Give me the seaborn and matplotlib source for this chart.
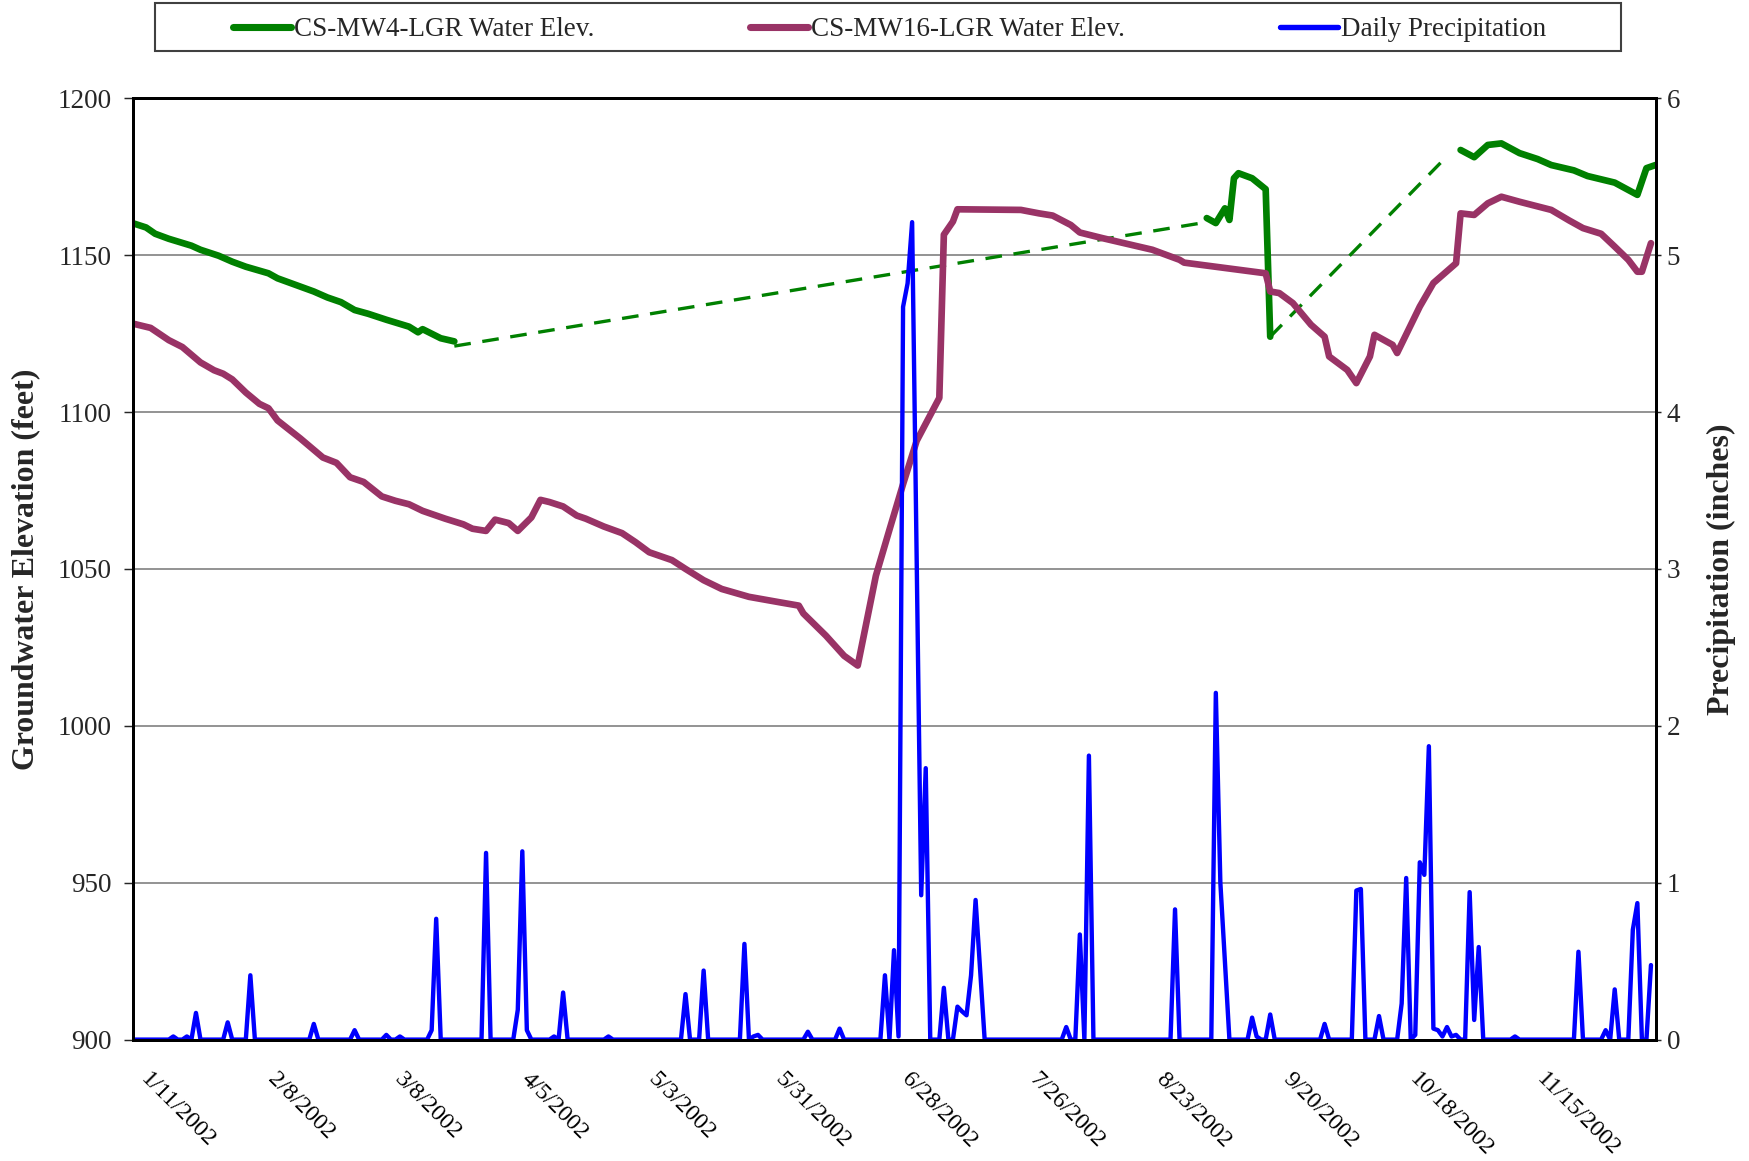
import pandas as pd
import numpy as np
import matplotlib
matplotlib.use("Agg")
import matplotlib.pyplot as plt
import matplotlib.transforms as mtransforms
from matplotlib.lines import Line2D
from matplotlib.patches import Rectangle
import seaborn as sns

start = pd.Timestamp("2002-01-11")
end = pd.Timestamp("2002-12-13")

# all positions are days after 1/11/2002
# CS-MW4-LGR, three measured stretches
mw4_days_1 = [0, 3, 5, 8, 13, 15, 19, 22, 25, 30, 32, 36, 40, 43, 46, 49, 52, 56, 61, 63, 64, 68, 71]
mw4_elev_1 = [1160.2, 1158.8, 1156.8, 1155.2, 1153.0, 1151.7, 1149.8, 1147.9, 1146.3, 1144.2, 1142.6,
              1140.5, 1138.4, 1136.5, 1135.0, 1132.5, 1131.3, 1129.4, 1127.2, 1125.4, 1126.4, 1123.5, 1122.5]
mw4_days_2 = [237, 239, 241, 242, 243, 244, 247, 250, 251]
mw4_elev_2 = [1161.8, 1160.2, 1164.9, 1161.2, 1174.5, 1176.1, 1174.5, 1171.0, 1124.0]
mw4_days_3 = [293, 296, 299, 302, 306, 310, 313, 318, 321, 327, 332, 334, 336]
mw4_elev_3 = [1183.5, 1181.2, 1185.1, 1185.6, 1182.5, 1180.6, 1178.7, 1177.0, 1175.2, 1173.1, 1169.2,
              1177.7, 1178.7]

# dashed connectors across the MW4 gaps
gap_days_1 = [71, 237]
gap_elev_1 = [1121.0, 1160.5]
gap_days_2 = [251, 290]
gap_elev_2 = [1124.0, 1181.5]

# CS-MW16-LGR
mw16_days = [0, 4, 8, 11, 15, 18, 20, 22, 25, 28, 30, 32, 37, 42, 45, 48, 51, 55, 58, 61, 64, 69, 73, 75,
             78, 80, 83, 85, 88, 90, 92, 95, 98, 100, 104, 108, 111, 114, 119, 122, 126, 130, 136, 143,
             147, 148, 153, 157, 160, 164, 167, 170, 173, 178, 179, 181, 182, 196, 200, 203, 207, 209,
             214, 225, 231, 232, 250, 251, 253, 256, 260, 263, 264, 268, 270, 273, 274, 278, 279, 284,
             287, 292, 293, 296, 299, 302, 306, 313, 317, 320, 324, 327, 330, 332, 333, 335]
mw16_elev = [1128.2, 1126.8, 1122.9, 1120.7, 1115.8, 1113.3, 1112.2, 1110.4, 1106.2, 1102.6, 1101.2,
             1097.3, 1091.6, 1085.5, 1083.8, 1079.2, 1077.7, 1073.1, 1071.7, 1070.6, 1068.5, 1066.0,
             1064.2, 1062.8, 1062.1, 1065.7, 1064.6, 1062.1, 1066.4, 1072.0, 1071.3, 1069.9, 1067.0,
             1066.0, 1063.5, 1061.4, 1058.5, 1055.3, 1052.8, 1050.0, 1046.4, 1043.6, 1041.1, 1039.3,
             1038.3, 1035.8, 1028.7, 1022.3, 1019.2, 1047.8, 1062.5, 1077.0, 1090.8, 1104.5, 1156.5,
             1160.7, 1164.6, 1164.4, 1163.3, 1162.6, 1159.6, 1157.2, 1155.4, 1151.7, 1148.5, 1147.6,
             1144.2, 1138.4, 1137.9, 1134.7, 1127.8, 1124.0, 1117.7, 1113.4, 1109.2, 1117.7, 1124.6,
             1121.4, 1118.8, 1133.6, 1141.1, 1147.4, 1163.3, 1162.8, 1166.5, 1168.6, 1167.0, 1164.4,
             1161.0, 1158.6, 1156.8, 1152.7, 1148.5, 1144.7, 1144.7, 1153.8]

# daily precipitation, days with rain (all other days 0)
rain_days = [9, 12, 14, 21, 26, 40, 49, 56, 59, 66, 67, 78, 85, 86, 87, 93, 95, 105, 122, 126, 135, 137,
             138, 149, 156, 166, 168, 169, 170, 171, 172, 173, 174, 175, 179, 182, 183, 184, 185, 186,
             187, 206, 209, 211, 230, 239, 240, 241, 247, 248, 251, 263, 270, 271, 275, 280, 281, 283,
             284, 285, 286, 287, 288, 289, 290, 291, 292, 295, 296, 297, 305, 319, 325, 327, 331, 332, 335]
rain_inches = [0.02, 0.02, 0.17, 0.11, 0.41, 0.10, 0.06, 0.03, 0.02, 0.06, 0.77, 1.19, 0.19, 1.20, 0.06,
               0.02, 0.30, 0.02, 0.29, 0.44, 0.61, 0.02, 0.03, 0.05, 0.07, 0.41, 0.57, 0.02, 4.67, 4.82,
               5.21, 3.07, 0.92, 1.73, 0.33, 0.21, 0.18, 0.155, 0.41, 0.89, 0.45, 0.08, 0.67, 1.81, 0.83,
               2.21, 1.00, 0.50, 0.14, 0.02, 0.16, 0.10, 0.95, 0.96, 0.15, 0.23, 1.03, 0.03, 1.13, 1.05,
               1.87, 0.07, 0.06, 0.02, 0.08, 0.02, 0.03, 0.94, 0.125, 0.59, 0.02, 0.56, 0.06, 0.32, 0.70,
               0.87, 0.475]
rain_last_day = 335

GREEN = "#008000"
PLUM = "#993366"
BLUE = "#0000FF"


def to_dates(days):
    return start + pd.to_timedelta(days, unit="D")


sns.set_style("white")
plt.rcParams["font.family"] = ["Liberation Serif", "DejaVu Serif"]

W, H = 1749, 1161
fig = plt.figure(figsize=(W / 150, H / 150), dpi=150)
ax = fig.add_axes([132.5 / W, 1 - 1039.6 / H, (1655.5 - 132.5) / W, (1039.6 - 98.2) / H])
ax2 = ax.twinx()

line_kw = dict(solid_capstyle="round", solid_joinstyle="round", estimator=None, legend=False)

for d, v in [(mw4_days_1, mw4_elev_1), (mw4_days_2, mw4_elev_2), (mw4_days_3, mw4_elev_3)]:
    sns.lineplot(x=to_dates(d), y=v, ax=ax, color=GREEN, lw=3.2, **line_kw)
for d, v in [(gap_days_1, gap_elev_1), (gap_days_2, gap_elev_2)]:
    sns.lineplot(x=to_dates(d), y=v, ax=ax, color=GREEN, lw=1.6,
                 estimator=None, legend=False, linestyle=(0, (5, 3.5)))
sns.lineplot(x=to_dates(mw16_days), y=mw16_elev, ax=ax, color=PLUM, lw=3.2, **line_kw)

daily = pd.Series(0.0, index=pd.date_range(start, start + pd.Timedelta(days=rain_last_day)))
daily[to_dates(rain_days)] = rain_inches
sns.lineplot(x=daily.index, y=daily.values, ax=ax2, color=BLUE, lw=2.1, **line_kw)

# axes
ax.set_xlim(start, end)
ax.set_ylim(900, 1200)
ax.set_yticks(range(900, 1201, 50))
ax2.set_ylim(0, 6)
ax2.set_yticks(range(0, 7))

ticks = pd.date_range(start, end, freq="14D")
ax.set_xticks(ticks)
ax.set_xticklabels([f"{t.month}/{t.day}/{t.year}" if (i % 2 == 0 and i < len(ticks) - 1) else ""
                    for i, t in enumerate(ticks)],
                   rotation=-45, ha="left", va="center", rotation_mode="anchor")
ax.tick_params(axis="x", direction="inout", length=5, width=0.7, pad=15, labelsize=11.5, colors="black")
ax.tick_params(axis="y", direction="out", length=4.3, width=0.7, pad=5.5, labelsize=13, left=True)
ax2.tick_params(axis="y", direction="out", length=2.4, width=0.7, pad=3, labelsize=13, right=True)

shift = mtransforms.ScaledTranslation(11 / 150, 0, fig.dpi_scale_trans)
for lbl in ax.get_xticklabels():
    lbl.set_transform(lbl.get_transform() + shift)

ax.yaxis.grid(True, color="#808080", lw=0.8)
ax.xaxis.grid(False)
ax2.grid(False)
for a in (ax, ax2):
    for s in a.spines.values():
        s.set_color("black")
        s.set_linewidth(1.4)

ax.set_xlabel("")
ax.set_ylabel("Groundwater Elevation (feet)", fontsize=15.3, fontweight="bold")
ax.yaxis.set_label_coords(-0.0607, 0.5)
ax2.set_ylabel("Precipitation (inches)", fontsize=15.3, fontweight="bold")
ax2.yaxis.set_label_coords(1.0338, 0.5)

# legend in a box above the plot
handles = [Line2D([], [], color=GREEN, lw=3.4, solid_capstyle="round"),
           Line2D([], [], color=PLUM, lw=3.4, solid_capstyle="round"),
           Line2D([], [], color=BLUE, lw=2.6, solid_capstyle="round")]
labels = ["CS-MW4-LGR Water Elev.", "CS-MW16-LGR Water Elev.", "Daily Precipitation"]
fig.legend(handles, labels, loc="center", bbox_to_anchor=(889.5 / W, 1 - 30 / H), ncol=3,
           frameon=False, fontsize=13, handlelength=2.14, handletextpad=0.12, columnspacing=5.72)
fig.patches.append(Rectangle((155 / W, 1 - 51 / H), 1466 / W, 48 / H, transform=fig.transFigure,
                             fill=False, edgecolor="#404040", lw=1.0))

fig.savefig("out.png", dpi=150)
